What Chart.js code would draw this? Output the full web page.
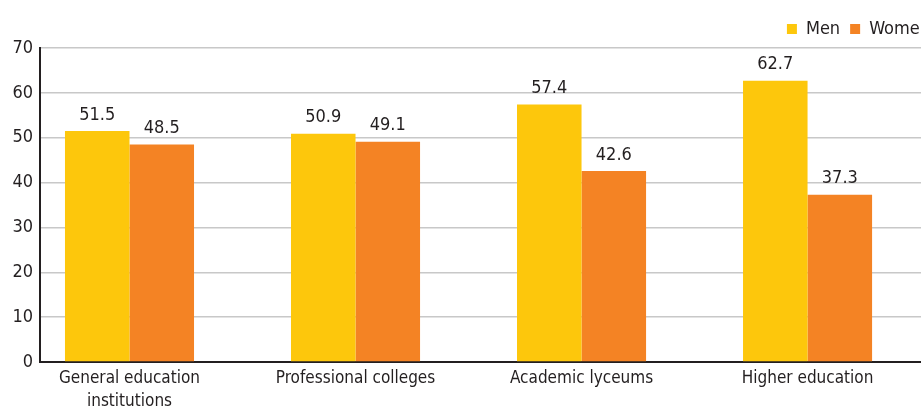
<!DOCTYPE html>
<html>
<head>
<meta charset="utf-8">
<script src="https://cdn.jsdelivr.net/npm/chart.js@4.4.1/dist/chart.umd.min.js"></script>
<style>
  html, body { margin: 0; padding: 0; overflow: hidden; background: #fff; }
  #chart { display: block; }
</style>
</head>
<body>
<canvas id="chart" width="940" height="407"></canvas>
<script>
const categories = [['General education', 'institutions'], 'Professional colleges', 'Academic lyceums', 'Higher education'];
const men = [51.5, 50.9, 57.4, 62.7];
const women = [48.5, 49.1, 42.6, 37.3];
const yTicks = [0, 10, 20, 30, 40, 50, 60, 70];

const FONT = "'Liberation Sans Narrow', 'DejaVu Sans Condensed', sans-serif";
const TEXT = '#231f20';

// values above each bar
const valueLabels = {
  id: 'valueLabels',
  afterDatasetsDraw(chart) {
    const ctx = chart.ctx;
    ctx.save();
    ctx.font = '18px ' + FONT;
    ctx.fillStyle = TEXT;
    ctx.textAlign = 'center';
    ctx.textBaseline = 'bottom';
    chart.data.datasets.forEach((ds, di) => {
      chart.getDatasetMeta(di).data.forEach((bar, i) => {
        ctx.fillText(ds.data[i].y.toFixed(1), bar.x, bar.y - 7);
      });
    });
    ctx.restore();
  }
};

const toPoints = arr => arr.map((v, i) => ({ x: i, y: v }));

new Chart(document.getElementById('chart'), {
  type: 'bar',
  data: {
    datasets: [
      { label: 'Men', data: toPoints(men), backgroundColor: '#fdc70c' },
      { label: 'Women', data: toPoints(women), backgroundColor: '#f48324' }
    ]
  },
  options: {
    responsive: false,
    animation: false,
    layout: { padding: { top: 10, left: 0, right: 0, bottom: 0 } },
    datasets: { bar: { barPercentage: 1, categoryPercentage: 0.571 } },
    plugins: {
      tooltip: { enabled: false },
      legend: {
        position: 'top',
        align: 'end',
        labels: {
          boxWidth: 10,
          boxHeight: 10,
          padding: 10,
          color: TEXT,
          font: { family: FONT, size: 18 }
        }
      }
    },
    scales: {
      x: {
        type: 'linear',
        offset: false,
        min: -0.396,
        max: 3.586,
        afterBuildTicks: s => { s.ticks = categories.map((_, i) => ({ value: i })); },
        afterFit: s => { s.height = 45; },
        grid: { display: false, drawTicks: false, offset: false },
        border: { display: true, color: '#231f20', width: 2 },
        ticks: {
          color: TEXT,
          padding: 6,
          maxRotation: 0,
          autoSkip: false,
          font: { family: FONT, size: 17, lineHeight: 1.3 },
          callback: v => categories[v]
        }
      },
      y: {
        min: 0,
        max: 70,
        afterBuildTicks: s => { s.ticks = yTicks.map(v => ({ value: v })); },
        afterFit: s => { s.width = 40; },
        grid: { color: '#c8c8c8', lineWidth: 1.5, drawTicks: false },
        border: { display: true, color: '#231f20', width: 2 },
        ticks: {
          color: TEXT,
          padding: 7,
          font: { family: FONT, size: 18 }
        }
      }
    }
  },
  plugins: [valueLabels]
});
</script>
</body>
</html>
